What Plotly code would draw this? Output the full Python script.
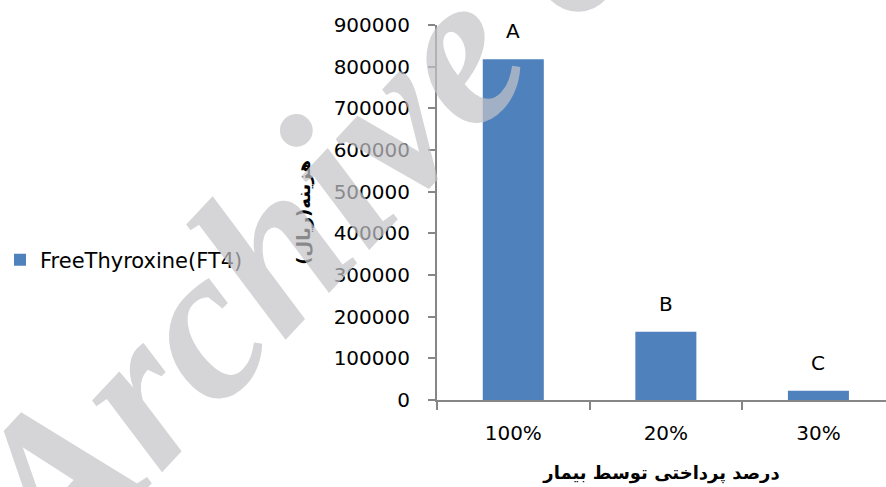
import plotly.graph_objects as go

categories = ["100%", "20%", "30%"]
values = [818000, 164000, 22000]
letters = ["A", "B", "C"]
series_name = "FreeThyroxine(FT4)"
y_ticks = [0, 100000, 200000, 300000, 400000, 500000, 600000, 700000, 800000, 900000]
x_title = "درصد پرداختی توسط بیمار"
y_title = "هزینه(ریال)"
watermark = "Archive of SID"

BAR = "#4F81BD"
AX = "#868686"
FONT = "DejaVu Sans"

fig = go.Figure()
fig.add_trace(go.Bar(
    x=categories, y=values, name=series_name,
    marker=dict(color=BAR, line=dict(width=0)),
    width=0.4, showlegend=True,
))

annotations = []
for c, v, t in zip(categories, values, letters):
    annotations.append(dict(
        x=c, y=v, xref="x", yref="y", text=t, showarrow=False,
        yanchor="bottom", yshift=14, font=dict(family=FONT, size=20, color="black"),
    ))

annotations.append(dict(
    x=-0.298, y=0.5, xref="paper", yref="paper", text=y_title, showarrow=False,
    xanchor="center", yanchor="middle",
    textangle=-90, font=dict(family=FONT, size=18, color="black", weight="bold"),
))

annotations.append(dict(
    x=0.06, y=0.96, xref="paper", yref="paper", text="<i>" + watermark + "</i>",
    xanchor="center", yanchor="middle",
    showarrow=False, textangle=-47, opacity=0.7,
    font=dict(family="Liberation Serif", size=218, color="#C4C4C8",
              weight="bold", style="italic"),
))

fig.update_layout(
    width=886, height=487,
    margin=dict(l=433, r=0, t=25, b=87),
    paper_bgcolor="white", plot_bgcolor="white",
    font=dict(family=FONT, size=20, color="black"),
    bargap=0.6,
    showlegend=True,
    legend=dict(
        x=-0.975, xanchor="left", y=0.373, yanchor="middle",
        font=dict(family=FONT, size=21, color="black"),
        bgcolor="rgba(0,0,0,0)",
    ),
    xaxis=dict(
        range=[-0.5, 2.443], showline=True, linecolor=AX, linewidth=2,
        ticks="outside", tickson="boundaries", ticklen=8, tickwidth=2, tickcolor=AX,
        showgrid=False, zeroline=False,
        tickfont=dict(family=FONT, size=20, color="black"),
        ticklabelstandoff=14,
        title=dict(text=x_title, font=dict(family=FONT, size=18, color="black", weight="bold"), standoff=22),
    ),
    yaxis=dict(
        range=[0, 900000], tickvals=y_ticks, ticktext=[str(v) for v in y_ticks],
        showline=True, linecolor=AX, linewidth=2,
        ticks="outside", ticklen=7, tickwidth=2, tickcolor=AX,
        showgrid=False, zeroline=False,
        tickfont=dict(family=FONT, size=20, color="black"),
        ticklabelstandoff=14,
    ),
    annotations=annotations,
)

fig.write_html("out.html")
